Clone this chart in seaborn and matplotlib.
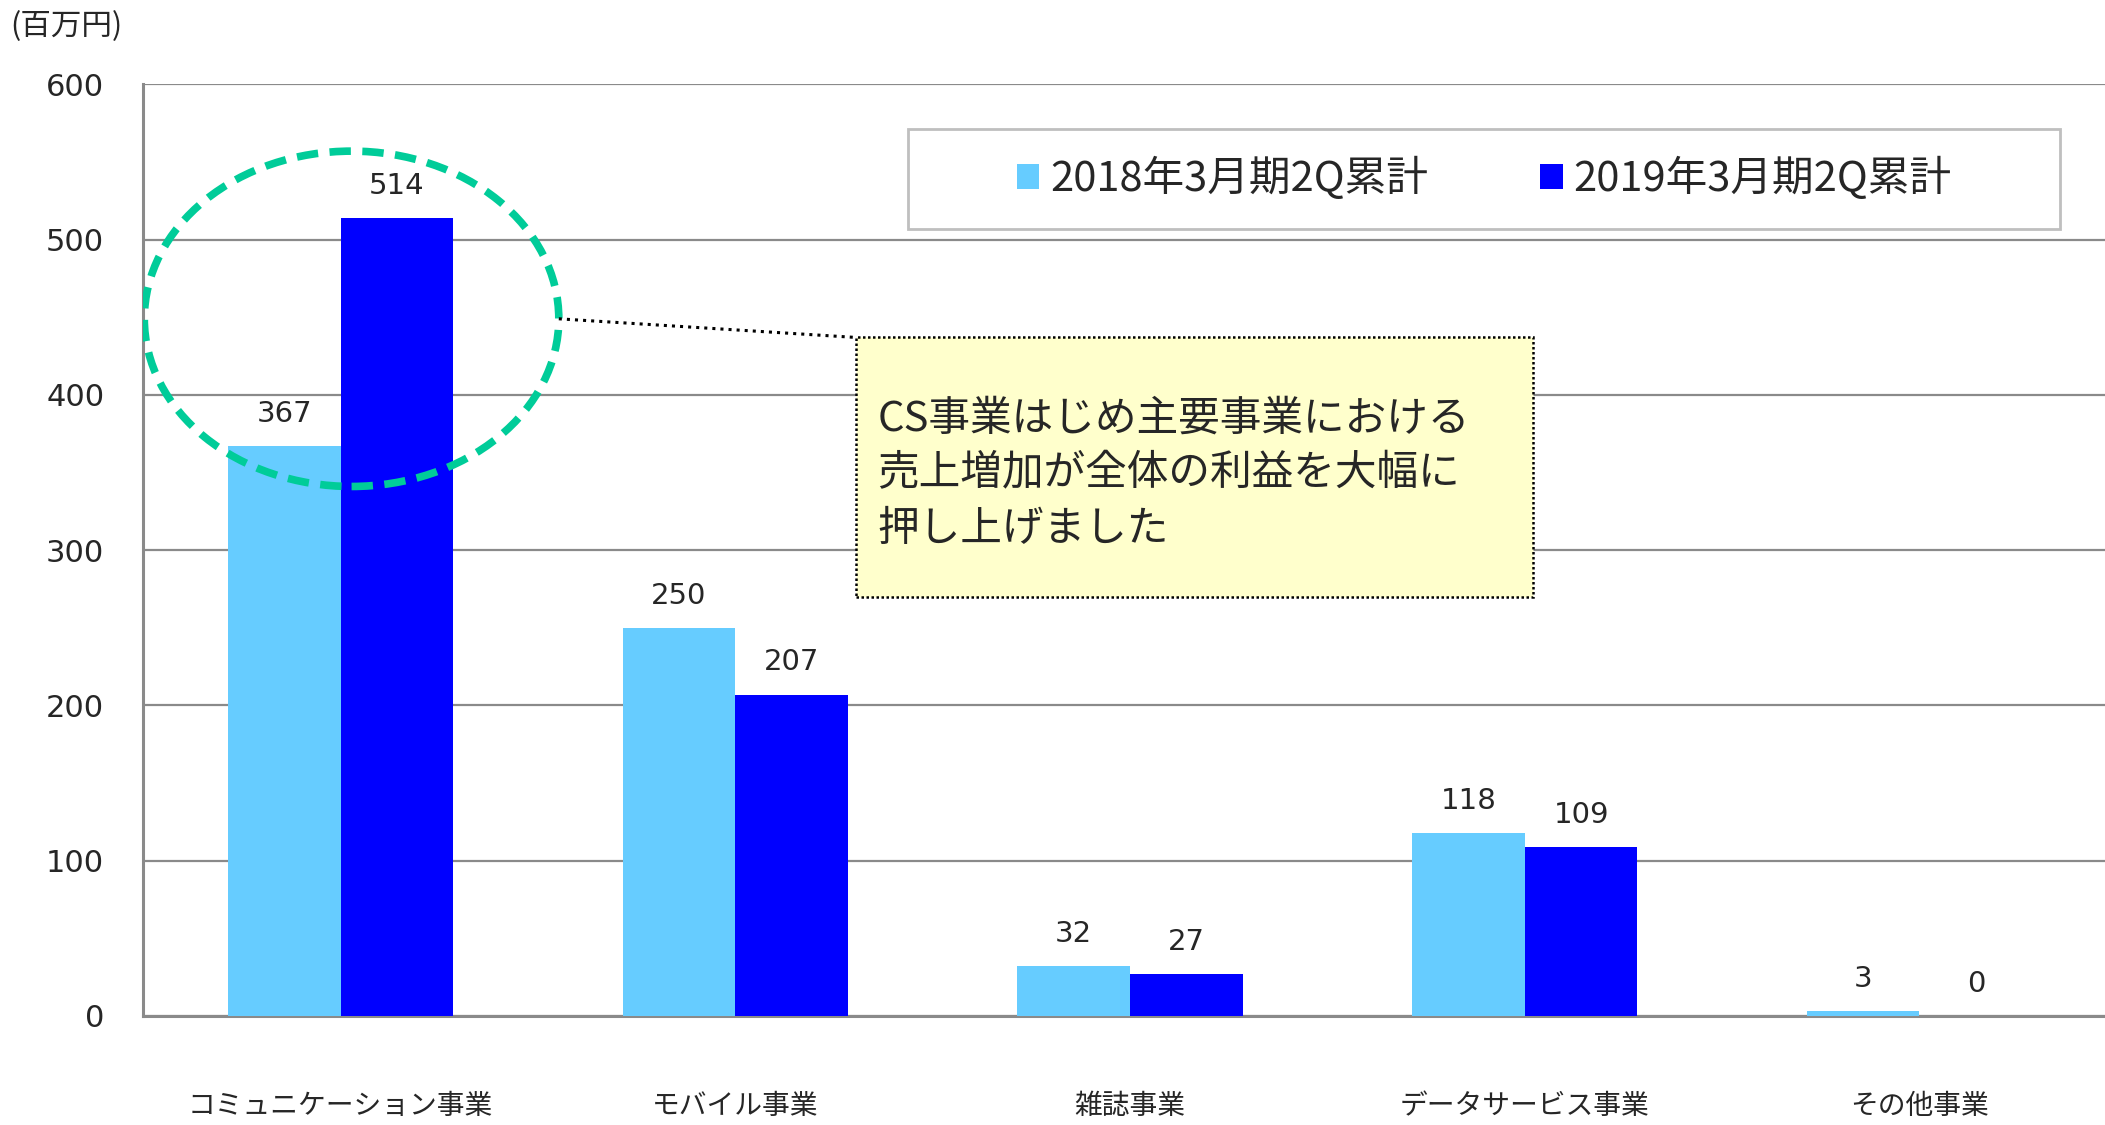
import matplotlib
matplotlib.use("Agg")
import matplotlib.pyplot as plt
from matplotlib.patches import Ellipse, Rectangle, Patch
import seaborn as sns
import pandas as pd

# data (百万円)
categories = ['コミュニケーション事業', 'モバイル事業', '雑誌事業', 'データサービス事業', 'その他事業']
periods = ['2018年3月期2Q累計', '2019年3月期2Q累計']
values_2018 = [367, 250, 32, 118, 3]
values_2019 = [514, 207, 27, 109, 0]
colors = ['#66CCFF', '#0000FF']

note_text = 'CS事業はじめ主要事業における\n売上増加が全体の利益を大幅に\n押し上げました'

df = pd.DataFrame({
    'category': categories * 2,
    'period': [periods[0]] * len(categories) + [periods[1]] * len(categories),
    'value': values_2018 + values_2019,
})

sns.set_style("white")
plt.rcParams['font.family'] = ['Noto Sans CJK JP', 'DejaVu Sans']

grey = '#8a8a8a'

fig = plt.figure(figsize=(21.05, 11.25), dpi=100)
ax = fig.add_axes([0.068, 0.097, 0.932, 0.828])

sns.barplot(data=df, x='category', y='value', hue='period', palette=colors,
            width=0.571, gap=0, saturation=1, legend=False, linewidth=0,
            ax=ax, zorder=3)

ax.set_ylim(0, 600)
ax.set_xlim(-0.5, 4.47)
ax.set_yticks(range(0, 601, 100))
ax.set_xlabel('')
ax.set_ylabel('')

ax.yaxis.grid(True, color=grey, lw=1.6)
ax.set_axisbelow(True)
for s in ['top', 'right']:
    ax.spines[s].set_visible(False)
ax.spines['left'].set_color(grey)
ax.spines['left'].set_linewidth(2.2)
ax.spines['bottom'].set_color(grey)
ax.spines['bottom'].set_linewidth(2.2)

ax.tick_params(axis='y', length=7, width=1.6, color=grey, pad=21, labelsize=22)
ax.tick_params(axis='x', length=0, pad=54, labelsize=20)
for lab in ax.get_yticklabels():
    lab.set_family('DejaVu Sans')

# value labels
for cont in ax.containers:
    ax.bar_label(cont, padding=13, fontsize=21, family='DejaVu Sans')

# legend inside a plain grey box
ax.add_patch(Rectangle((0.39, 0.845), 0.587, 0.107, transform=ax.transAxes,
                       fc='white', ec='#bfbfbf', lw=2, zorder=4))
handles = [Patch(fc=c, ec='none') for c in colors]
ax.legend(handles, periods, ncol=2, loc='center', bbox_to_anchor=(0.6835, 0.8986),
          frameon=False, fontsize=30, handlelength=0.55, handleheight=0.55,
          handletextpad=0.25, columnspacing=2.7).set_zorder(5)

# dashed highlight round the first group
ax.add_patch(Ellipse((0.028, 449), 1.05, 216, fill=False, ec='#00CC99',
                     lw=5.5, ls=(0, (2.8, 1.5)), zorder=6))
ax.plot([0.553, 1.305], [449, 437], color='black', ls=':', lw=2.2, zorder=6)

# note box
ax.add_patch(Rectangle((1.305, 270), 1.715, 167, fc='#FFFFCC', ec='black',
                       ls=(0, (1, 1)), lw=1.8, zorder=6))
ax.text(1.36, 349, note_text, fontsize=30, ha='left', va='center',
        linespacing=1.45, zorder=7)

fig.text(0.005, 1 - 27 / 1125, '(百万円)', fontsize=22, ha='left', va='center')

fig.savefig('out.png', dpi=100)
